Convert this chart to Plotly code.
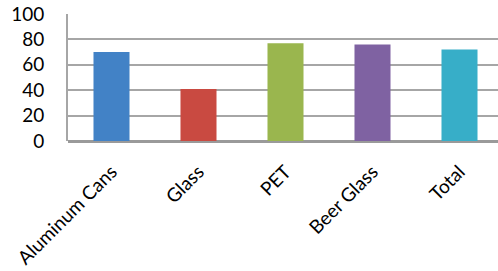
import plotly.graph_objects as go

categories = ["Aluminum Cans", "Glass", "PET", "Beer Glass", "Total"]
values = [70, 41, 77, 76, 72]
colors = ["#4282c6", "#c94a41", "#9ab64e", "#7f62a2", "#37aec8"]
y_ticks = [0, 20, 40, 60, 80, 100]

fig = go.Figure()
fig.add_trace(go.Bar(
    x=list(range(len(categories))), y=values,
    marker=dict(color=colors, line=dict(width=0)),
    width=0.414,
))

W, H = 498, 271
left, top, bottom = 68, 14, 130
fig.update_layout(
    width=W, height=H,
    margin=dict(l=left, r=0, t=top, b=bottom, pad=0),
    paper_bgcolor="white", plot_bgcolor="white",
    showlegend=False,
    font=dict(family="Lato, Open Sans, sans-serif", size=17, color="#000000"),
)
fig.update_xaxes(
    tickmode="array", tickvals=list(range(len(categories))), ticktext=categories,
    tickangle=-45, range=[-0.5, -0.5 + (W - left) / 87.0],
    showgrid=False, zeroline=False, showline=False, ticks="",
    tickfont=dict(size=19), automargin=False, ticklabelstandoff=15,
)
fig.update_yaxes(
    range=[0, 100], tickvals=y_ticks,
    showgrid=True, gridcolor="#a6a6a6", gridwidth=2,
    zeroline=True, zerolinecolor="#9a9a9a", zerolinewidth=3,
    showline=True, linecolor="#a6a6a6", linewidth=2,
    ticks="", ticklabelstandoff=18, automargin=False,
    tickfont=dict(size=19),
)
fig.write_html(
    "out.html",
    config={"displayModeBar": False, "staticPlot": True},
    post_script="document.body.style.margin='0px';document.body.style.overflow='hidden';",
)
